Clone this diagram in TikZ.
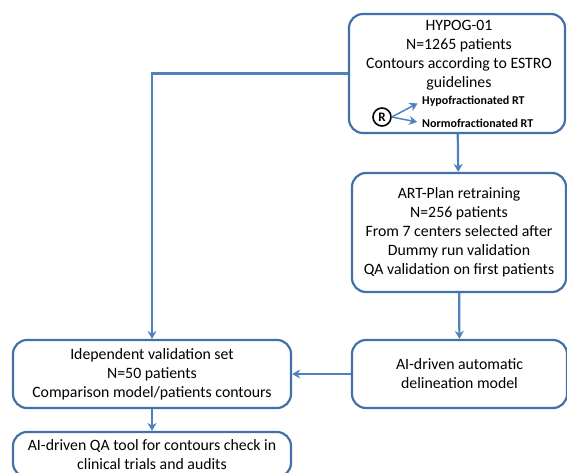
\documentclass[tikz,border=0pt]{standalone}
\usepackage{fontspec}
\setmainfont{Carlito}
\usepackage{tikz}
\usetikzlibrary{arrows.meta, positioning, calc}
\usepackage{xcolor}

\definecolor{boxblue}{RGB}{65,113,168}
\definecolor{lineblue}{RGB}{79,129,189}

\tikzset{
    stagebox/.style={draw=boxblue, line width=2.2pt, rounded corners=14pt, align=center,
        font=\fontsize{15.8}{19}\selectfont, inner sep=0pt},
    flow/.style={-{Stealth[length=8pt, width=9pt]}, line width=2.2pt, lineblue},
    armlabel/.style={font=\fontsize{12}{13}\selectfont\bfseries, anchor=west, inner sep=0pt}
}

\begin{document}
\begin{tikzpicture}[x=1pt, y=-1pt]

        \useasboundingbox (0,0) rectangle (567,473);
        \clip (0,0) rectangle (567,473);

        % Trial box (top right), text placed separately
        \node[stagebox, minimum width=216pt, minimum height=119pt] (hypog) at (457,73.5) {};
        \node[align=center, font=\fontsize{15.8}{19}\selectfont, anchor=north, inner sep=0pt] (hypogtext) at (459,20)
            {HYPOG-01\\N=1265 patients\\Contours according to ESTRO\\guidelines};

        % Randomisation between the two arms
        \node[circle, draw, line width=1.6pt, inner sep=1pt, minimum size=18pt, font=\bfseries\fontsize{13}{13}\selectfont] (rand) at (382,117) {R};
        \node[armlabel] (hypo) at (422,101) {Hypofractionated RT};
        \node[armlabel] (normo) at (422,123) {Normofractionated RT};
        \draw[flow, line width=1.5pt, shorten >=5pt] (rand.east) -- (hypo.west);
        \draw[flow, line width=1.5pt, shorten >=5pt] (rand.east) -- (normo.west);

        % Retraining and model
        \node[stagebox, minimum width=214pt, minimum height=119pt] (retrain) at (459,232.5)
            {ART-Plan retraining\\N=256 patients\\From 7 centers selected after\\Dummy run validation\\QA validation on first patients};
        \node[stagebox, minimum width=215pt, minimum height=68pt] (model) at (459.5,374)
            {AI-driven automatic\\delineation model};

        % Validation side (left)
        \node[stagebox, minimum width=278pt, minimum height=68pt] (valid) at (152,374)
            {Idependent validation set\\N=50 patients\\Comparison model/patients contours};
        \node[stagebox, minimum width=278pt, minimum height=45pt] (qatool) at (152,454.5)
            {AI-driven QA tool for contours check in\\clinical trials and audits};

        % Connectors
        \draw[flow] (hypog) -- (retrain);
        \draw[flow] (retrain) -- (model);
        \draw[flow] (model) -- (valid);
        \draw[flow] (valid) -- (qatool);
        \draw[flow] (hypog.west) -| (valid.north);

    \end{tikzpicture}
\end{document}
